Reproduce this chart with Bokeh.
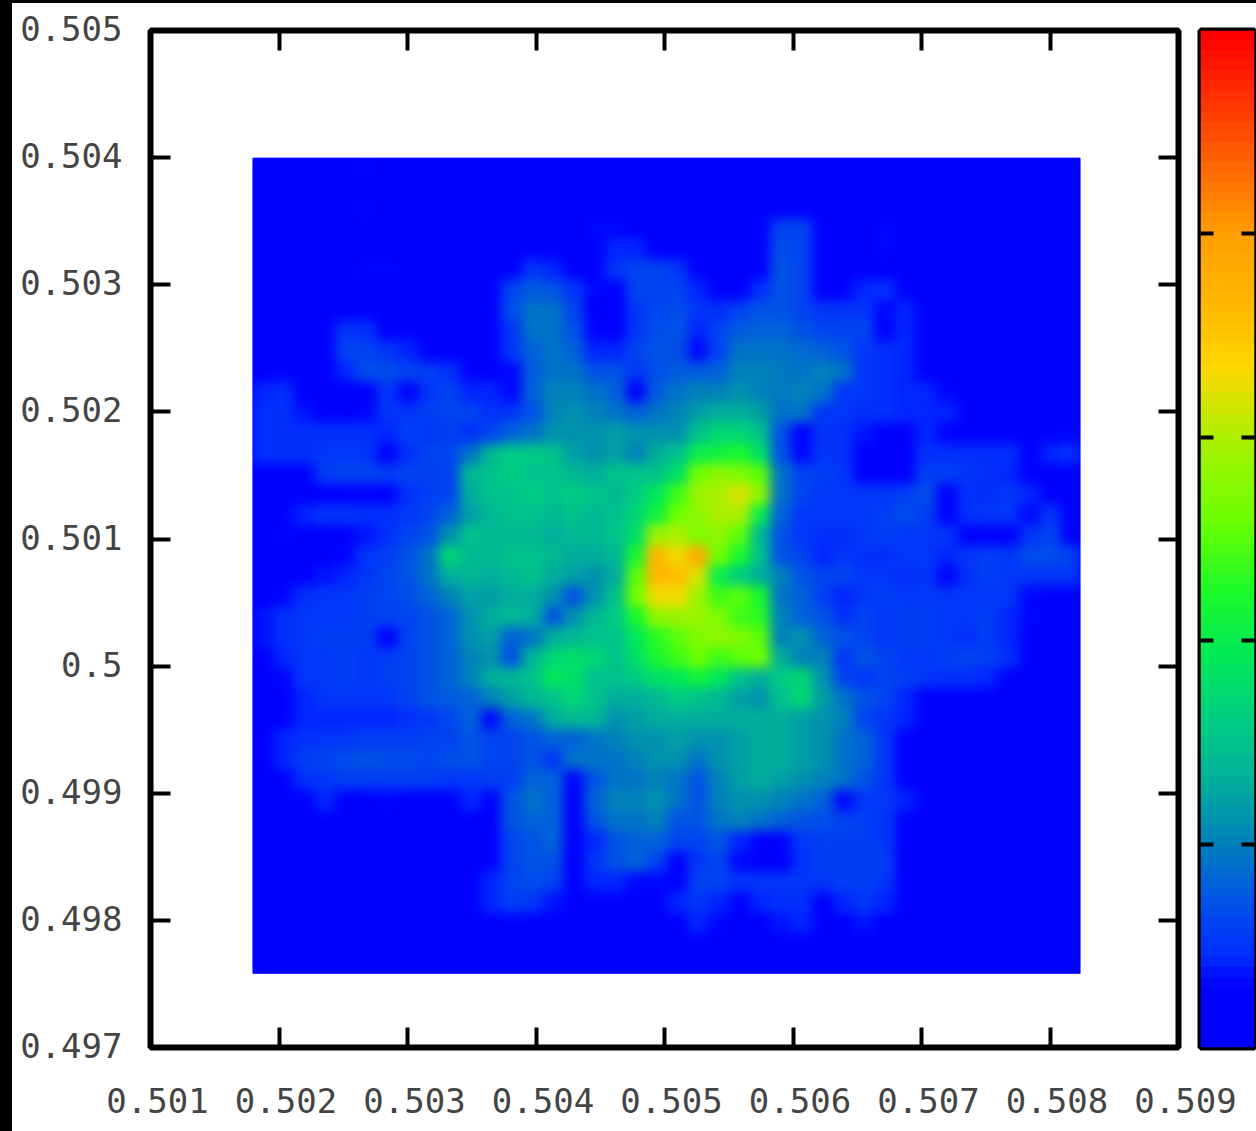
import numpy as np
from bokeh.embed import file_html
from bokeh.events import DocumentReady
from bokeh.io import curdoc
from bokeh.models import CustomJS, Div, FixedTicker, LinearAxis, LinearColorMapper
from bokeh.plotting import figure
from bokeh.resources import INLINE

x_ticks = [0.501, 0.502, 0.503, 0.504, 0.505, 0.506, 0.507, 0.508, 0.509]
x_labels = ["0.501", "0.502", "0.503", "0.504", "0.505", "0.506", "0.507", "0.508", "0.509"]
y_ticks = [0.497, 0.498, 0.499, 0.5, 0.501, 0.502, 0.503, 0.504, 0.505]
y_labels = ["0.497", "0.498", "0.499", "0.5", "0.501", "0.502", "0.503", "0.504", "0.505"]
bar_ticks = [20, 40, 60, 80]

# Density, in percent of the colour bar, top row first.
density = [
[0,0,0,0,5,6,5,0,0,0,0,0,0,0,0,0,0,0,0,0,0,0,0,0,0,0,0,0,0,0,0,0,0,0,0,0,0,0,0,0],
[0,0,0,0,0,0,0,0,0,0,0,0,0,0,0,0,0,0,0,0,0,0,0,0,0,0,0,0,0,0,0,0,0,0,0,0,0,0,0,0],
[0,0,0,0,0,6,0,0,0,0,0,0,0,0,0,0,5,0,0,0,0,0,0,0,0,0,0,0,0,0,0,0,0,0,0,0,0,0,0,0],
[0,0,0,0,0,0,0,0,0,0,0,0,0,0,0,0,6,6,0,0,0,0,0,0,0,12,12,0,0,0,6,0,0,0,0,0,0,0,0,0],
[0,0,0,0,0,0,0,0,0,0,0,0,0,0,0,0,0,8,8,0,0,0,0,0,0,13,12,0,0,0,6,0,0,0,0,0,0,0,0,0],
[0,0,0,0,0,6,6,0,0,0,0,0,0,10,8,0,0,10,12,12,10,0,0,0,0,14,12,0,0,0,0,0,0,0,0,0,0,0,0,0],
[0,0,0,0,0,0,0,0,0,0,0,0,12,15,14,10,6,0,12,12,12,8,0,3,9,14,12,0,0,8,9,0,0,0,0,0,0,0,0,0],
[0,0,0,0,0,0,0,0,0,0,0,0,13,18,18,12,2,0,10,12,13,10,9,12,14,14,12,10,10,10,6,8,0,0,0,0,0,0,0,0],
[0,0,0,0,10,9,0,0,0,0,0,0,10,18,18,14,6,2,10,13,14,8,12,15,16,16,14,12,12,12,3,8,0,0,0,0,0,0,0,0],
[0,0,0,0,12,12,10,8,0,0,0,0,10,16,18,16,8,8,12,14,13,6,12,18,18,18,17,16,14,10,9,8,0,0,0,0,0,0,0,0],
[0,0,0,0,8,13,13,12,11,9,0,0,6,15,18,18,14,14,10,13,15,15,16,20,20,19,18,20,18,10,9,8,0,0,0,0,0,0,0,0],
[8,9,2,0,0,2,10,1,10,12,8,8,6,16,20,20,18,16,4,15,18,20,20,22,20,19,20,18,10,10,9,8,8,6,0,0,0,0,0,0],
[9,9,7,4,4,6,10,10,11,12,12,9,10,14,20,22,20,18,16,18,20,24,26,26,24,18,18,10,10,9,9,8,8,8,5,0,0,0,0,0],
[9,9,9,9,9,9,8,11,10,11,9,12,16,18,22,22,22,24,22,22,22,30,34,34,30,14,4,10,9,7,4,4,8,4,0,0,0,4,0,6],
[9,9,9,10,10,10,2,9,12,12,18,28,32,32,30,24,22,24,20,26,30,40,42,44,36,14,6,10,9,1,0,1,9,9,9,9,9,3,8,9],
[0,0,2,11,12,12,11,12,11,12,28,30,32,30,30,28,26,30,30,30,36,52,56,54,50,18,12,11,10,2,0,5,11,11,10,9,8,2,2,4],
[0,0,0,3,2,1,2,9,11,12,26,30,30,32,30,32,30,28,32,38,48,58,60,64,56,18,12,10,10,10,10,11,13,2,9,9,10,8,3,4],
[0,1,8,10,10,9,9,10,12,16,24,28,30,30,28,30,28,30,34,42,52,56,60,60,40,16,10,10,10,10,11,13,11,4,9,10,10,6,10,2],
[0,6,3,3,2,7,9,12,14,22,30,28,28,28,26,28,28,30,36,58,60,54,56,50,28,14,10,9,9,10,11,10,10,10,3,3,3,10,12,3],
[0,0,0,1,6,10,11,14,18,34,28,28,30,30,28,26,26,28,44,74,66,78,52,44,30,14,12,8,10,9,9,10,10,8,10,11,10,13,13,12],
[0,0,4,7,8,10,12,14,18,26,28,26,28,30,26,24,22,26,50,74,72,64,40,32,26,20,14,12,12,10,10,9,10,4,9,11,10,10,10,10],
[0,6,9,10,10,11,12,13,16,20,24,24,26,26,22,14,22,30,52,66,66,58,48,50,44,18,16,11,8,10,11,10,10,10,10,10,10,6,0,0],
[7,9,10,10,10,11,12,12,14,16,22,26,28,26,14,22,28,32,44,56,58,58,54,48,46,20,16,14,9,12,10,11,11,10,10,11,8,6,5,0],
[7,9,10,11,11,11,3,12,14,16,22,24,16,18,26,28,30,30,38,46,50,54,56,54,50,20,22,16,14,12,10,11,11,10,9,11,8,0,0,0],
[0,8,10,10,11,10,11,12,14,16,20,22,14,28,34,36,34,30,36,44,48,52,48,50,52,26,20,20,10,14,12,10,10,11,12,11,9,0,0,0],
[0,6,10,10,11,10,11,12,14,16,20,26,28,30,38,36,30,30,32,36,38,42,38,30,26,32,34,22,12,10,12,11,10,9,9,8,3,0,0,0],
[0,0,8,10,10,10,10,12,14,15,16,20,24,28,30,34,30,26,26,28,32,30,28,24,22,30,34,24,18,14,12,8,0,0,0,0,0,0,0,0],
[0,2,8,8,8,8,8,9,10,12,16,6,16,18,26,28,28,22,24,26,26,26,26,26,26,26,24,22,20,12,10,8,0,0,0,0,0,0,0,0],
[0,8,9,10,10,11,11,11,12,12,14,12,12,14,16,16,18,20,22,22,24,22,22,24,26,26,24,22,18,16,10,0,0,0,0,0,0,0,0,0],
[0,8,11,12,13,14,13,13,12,13,14,12,12,14,10,18,18,18,20,22,22,18,22,24,26,26,24,22,18,16,10,0,0,0,0,0,0,0,0,0],
[0,5,9,10,11,11,11,11,11,10,10,11,11,16,16,6,14,18,18,20,18,14,20,24,26,24,22,20,18,14,10,4,0,0,0,0,0,0,0,0],
[0,0,0,8,3,2,6,4,3,1,8,4,14,18,16,2,16,20,20,22,18,14,20,22,22,20,18,16,6,10,10,8,0,0,0,0,0,0,0,0],
[0,0,0,5,0,0,0,0,0,0,0,0,14,16,16,3,14,18,18,20,14,14,18,20,18,16,14,13,12,11,10,0,0,0,0,0,0,0,0,0],
[0,0,0,3,0,0,0,0,0,0,0,0,12,14,16,2,8,14,16,16,12,12,14,8,0,4,10,11,11,11,10,0,0,0,0,0,0,0,0,0],
[0,0,0,0,0,0,0,0,0,0,0,2,12,14,14,2,10,14,16,12,2,10,12,6,0,4,9,11,11,11,11,0,0,0,0,0,0,0,0,0],
[0,0,0,0,0,0,0,0,0,0,0,8,12,13,12,4,8,8,6,6,2,12,12,10,10,10,10,10,11,11,10,0,0,0,0,0,0,0,0,0],
[0,0,0,0,0,0,0,0,0,0,0,8,11,10,7,0,0,0,0,0,8,10,8,2,8,9,9,3,8,10,8,0,0,0,0,0,0,0,0,0],
[0,0,0,0,0,0,0,0,0,0,0,0,0,4,0,0,0,0,0,0,0,8,6,1,5,7,8,0,4,7,0,0,0,0,0,0,0,0,0,0],
[0,0,0,0,0,0,0,0,0,0,0,0,0,0,0,0,0,0,0,0,0,0,0,0,3,4,2,0,0,0,0,0,0,0,0,0,0,0,0,0],
[0,0,0,0,0,0,0,0,0,0,0,0,0,0,0,0,0,0,0,0,0,0,0,0,0,0,0,0,0,0,0,0,0,0,0,0,0,0,0,0],
]
bar_levels = list(range(0, 101))

stops = [(0,(0,0,255)),(5.5,(0,0,255)),(8,(0,40,255)),(12,(0,70,240)),(16,(0,100,215)),
         (20,(0,130,185)),(26,(0,175,155)),(32,(0,205,130)),(38,(0,232,90)),(45,(30,250,40)),
         (52,(110,255,0)),(60,(170,240,0)),(67,(255,215,0)),(73,(255,185,0)),(80,(255,160,0)),
         (90,(255,80,0)),(100,(255,0,0))]
levels = np.linspace(0, 100, 256)
pos = [s[0] for s in stops]
palette = ["#%02x%02x%02x" % tuple(int(round(np.interp(t, pos, [s[1][k] for s in stops]))) for k in range(3))
           for t in levels]
mapper = LinearColorMapper(palette=palette, low=0, high=100)

FONT = "DejaVu Sans Mono"
TEXT = "#444444"
W, H = 1256, 1131
x0, x1, y0, y1 = 0.501, 0.509, 0.497, 0.505
ix0, ix1, iy0, iy1 = 0.501794, 0.508237, 0.49758, 0.504


def place(left, top, z=1):
    return {"position": "absolute", "left": f"{left}px", "top": f"{top}px", "z-index": str(z)}


def inner_axis(ticks, tick_in):
    return LinearAxis(ticker=FixedTicker(ticks=ticks), major_tick_in=tick_in, major_tick_out=0,
                      minor_tick_line_color=None, axis_line_color=None, major_tick_line_width=4,
                      major_tick_line_color="black", major_label_text_color=None,
                      major_label_text_font_size="1px", major_label_standoff=0)


def label_axis(ticks, labels, standoff):
    return LinearAxis(ticker=FixedTicker(ticks=ticks), major_tick_in=0, major_tick_out=0,
                      major_tick_line_color=None, minor_tick_line_color=None, axis_line_color=None,
                      major_label_text_font=FONT, major_label_text_font_size="34px",
                      major_label_text_color=TEXT, major_label_standoff=standoff,
                      major_label_overrides=dict(zip(ticks, labels)))


p = figure(width=W, height=H, x_range=(x0, x1), y_range=(y0, y1), output_backend="svg",
           toolbar_location=None, x_axis_location=None, y_axis_location=None,
           min_border_left=150, min_border_right=78, min_border_top=30, min_border_bottom=84,
           outline_line_color="black", outline_line_width=6, background_fill_color="white",
           border_fill_color="white", styles=place(0, 0, 1))
p.grid.visible = False
p.quad(left=[ix0], right=[ix1], bottom=[iy0], top=[iy1], fill_color=palette[0], line_color=None)
p.image(image=[np.flipud(np.array(density, dtype=float))], x=ix0, y=iy0, dw=ix1 - ix0, dh=iy1 - iy0,
        color_mapper=mapper)
p.add_layout(inner_axis(x_ticks, 20), "below")
p.add_layout(inner_axis(x_ticks, 20), "above")
p.add_layout(inner_axis(y_ticks, 20), "right")
p.add_layout(inner_axis(y_ticks, 20), "left")

# x tick labels: same scale, frame sitting 7px to the right of the plot frame.
xl = figure(width=W, height=71, x_range=(x0, x1), y_range=(0, 1), output_backend="svg",
            toolbar_location=None, x_axis_location=None, y_axis_location=None,
            min_border_left=157, min_border_right=71, min_border_top=0, min_border_bottom=55,
            outline_line_color=None, background_fill_color=None, border_fill_color=None,
            styles=place(0, 1060, 2))
xl.grid.visible = False
xl.add_layout(label_axis(x_ticks, x_labels, 11), "below")

# y tick labels: same scale, frame sitting 2px above the plot frame.
yl = figure(width=140, height=H, x_range=(0, 1), y_range=(y0, y1), output_backend="svg",
            toolbar_location=None, x_axis_location=None, y_axis_location=None,
            min_border_left=130, min_border_right=0, min_border_top=28, min_border_bottom=86,
            outline_line_color=None, background_fill_color=None, border_fill_color=None,
            styles=place(0, 0, 2))
yl.grid.visible = False
yl.add_layout(label_axis(y_ticks, y_labels, 8), "left")

b = figure(width=66, height=1060, x_range=(0, 1), y_range=(0, 100), output_backend="svg",
           toolbar_location=None, x_axis_location=None, y_axis_location=None,
           min_border_left=10, min_border_right=2, min_border_top=30, min_border_bottom=13,
           outline_line_color="black", outline_line_width=6, border_fill_color="white",
           styles=place(1190, 0, 3))
b.grid.visible = False
b.image(image=[np.array(bar_levels, dtype=float).reshape(-1, 1)], x=0, y=0, dw=1, dh=100, color_mapper=mapper)
b.add_layout(inner_axis(bar_ticks, 13), "left")
b.add_layout(inner_axis(bar_ticks, 13), "right")

strip_left = Div(text="", width=12, height=H,
                 styles={**place(0, 0, 5), "background": "black", "margin": "0"})
strip_top = Div(text="", width=W, height=3,
                styles={**place(0, 0, 5), "background": "black", "margin": "0"})

# The reference is a smoothed, soft heat map: soften the SVG image in the browser.
soften = CustomJS(code="""
const walk = (root, out) => {
  root.querySelectorAll('*').forEach(e => {
    if (e.tagName === 'image') out.push(e);
    if (e.shadowRoot) walk(e.shadowRoot, out);
  });
  return out;
};
const apply = () => {
  for (const img of walk(document, [])) {
    if (img.getBBox().width > 400) {
      img.style.filter = 'blur(6px)';
      img.style.clipPath = 'inset(0)';
    }
  }
};
apply();
for (const t of [50, 200, 500, 1000, 2000]) setTimeout(apply, t);
""")
doc = curdoc()
for root in (p, xl, yl, b, strip_left, strip_top):
    doc.add_root(root)
doc.js_on_event(DocumentReady, soften)
open("out.html", "w").write(file_html(doc, INLINE))
